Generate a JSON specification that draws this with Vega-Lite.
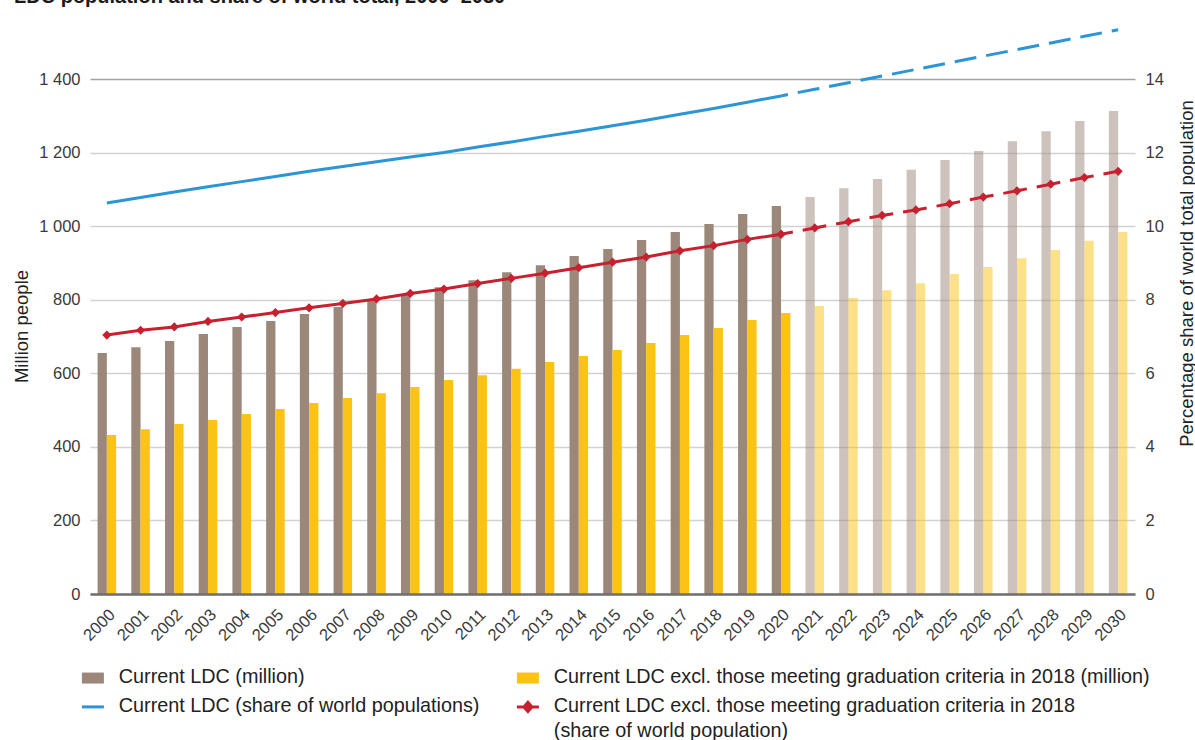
{
  "$schema": "https://vega.github.io/schema/vega-lite/v6.json",
  "width": 1045,
  "height": 515,
  "autosize": {"type": "none"},
  "padding": {"left": 90, "top": 79, "right": 60, "bottom": 146},
  "background": "white",
  "title": {
    "text": "LDC population and share of world total, 2000–2030",
    "anchor": "start",
    "frame": "group",
    "dx": -76,
    "offset": 1,
    "fontSize": 20,
    "fontWeight": "bold",
    "color": "#1a1a1a",
    "baseline": "alphabetic"
  },
  "config": {
    "font": "Liberation Sans",
    "view": {"stroke": null}
  },
  "data": {
    "values": [
      {"year": 2000, "ldc": 655, "excl": 432, "share": 10.63, "share_excl": 7.04},
      {"year": 2001, "ldc": 671, "excl": 448, "share": 10.78, "share_excl": 7.17},
      {"year": 2002, "ldc": 688, "excl": 462, "share": 10.93, "share_excl": 7.26},
      {"year": 2003, "ldc": 707, "excl": 473, "share": 11.07, "share_excl": 7.41},
      {"year": 2004, "ldc": 726, "excl": 489, "share": 11.21, "share_excl": 7.53},
      {"year": 2005, "ldc": 742, "excl": 503, "share": 11.35, "share_excl": 7.65},
      {"year": 2006, "ldc": 761, "excl": 519, "share": 11.49, "share_excl": 7.78},
      {"year": 2007, "ldc": 780, "excl": 533, "share": 11.62, "share_excl": 7.9},
      {"year": 2008, "ldc": 799, "excl": 546, "share": 11.75, "share_excl": 8.02},
      {"year": 2009, "ldc": 815, "excl": 563, "share": 11.88, "share_excl": 8.17},
      {"year": 2010, "ldc": 834, "excl": 582, "share": 12.0, "share_excl": 8.29},
      {"year": 2011, "ldc": 853, "excl": 595, "share": 12.15, "share_excl": 8.44},
      {"year": 2012, "ldc": 875, "excl": 612, "share": 12.29, "share_excl": 8.58},
      {"year": 2013, "ldc": 894, "excl": 631, "share": 12.44, "share_excl": 8.72},
      {"year": 2014, "ldc": 919, "excl": 647, "share": 12.58, "share_excl": 8.87},
      {"year": 2015, "ldc": 938, "excl": 663, "share": 12.73, "share_excl": 9.02},
      {"year": 2016, "ldc": 962, "excl": 682, "share": 12.88, "share_excl": 9.16},
      {"year": 2017, "ldc": 984, "excl": 704, "share": 13.04, "share_excl": 9.33},
      {"year": 2018, "ldc": 1006, "excl": 723, "share": 13.2, "share_excl": 9.47},
      {"year": 2019, "ldc": 1033, "excl": 745, "share": 13.37, "share_excl": 9.64},
      {"year": 2020, "ldc": 1055, "excl": 764, "share": 13.54, "share_excl": 9.78},
      {"year": 2021, "ldc": 1079, "excl": 783, "share": 13.72, "share_excl": 9.95},
      {"year": 2022, "ldc": 1103, "excl": 805, "share": 13.9, "share_excl": 10.12},
      {"year": 2023, "ldc": 1128, "excl": 826, "share": 14.08, "share_excl": 10.29},
      {"year": 2024, "ldc": 1153, "excl": 845, "share": 14.26, "share_excl": 10.44},
      {"year": 2025, "ldc": 1180, "excl": 870, "share": 14.44, "share_excl": 10.61},
      {"year": 2026, "ldc": 1204, "excl": 889, "share": 14.62, "share_excl": 10.79},
      {"year": 2027, "ldc": 1231, "excl": 913, "share": 14.8, "share_excl": 10.96},
      {"year": 2028, "ldc": 1258, "excl": 935, "share": 14.98, "share_excl": 11.14},
      {"year": 2029, "ldc": 1286, "excl": 960, "share": 15.16, "share_excl": 11.32},
      {"year": 2030, "ldc": 1313, "excl": 984, "share": 15.34, "share_excl": 11.49}
    ]
  },
  "encoding": {
    "x": {
      "field": "year",
      "type": "ordinal",
      "scale": {"paddingInner": 0.45, "paddingOuter": 0.225},
      "axis": {
        "title": null,
        "labelAngle": -45,
        "labelAlign": "right",
        "labelBaseline": "top",
        "labelFontSize": 16.5,
        "labelColor": "#3a3a3a",
        "labelPadding": 12,
        "ticks": false,
        "domain": true,
        "domainColor": "#6f6f6f",
        "domainWidth": 2.5,
        "zindex": 1
      }
    }
  },
  "layer": [
    {
      "transform": [{"fold": ["ldc", "excl"], "as": ["series", "value"]}],
      "mark": {"type": "bar"},
      "encoding": {
        "xOffset": {"field": "series", "type": "nominal", "scale": {"domain": ["ldc", "excl"], "paddingInner": 0, "paddingOuter": 0}},
        "y": {
          "field": "value",
          "type": "quantitative",
          "scale": {"domain": [0, 1400], "nice": false},
          "axis": {
            "title": "Million people",
            "titleFontSize": 18.5,
            "titleFontWeight": "normal",
            "titleColor": "#222222",
            "titleAngle": -90,
            "titleAlign": "center",
            "titleBaseline": "alphabetic",
            "titleX": -63,
            "titleY": 247,
            "values": [0, 200, 400, 600, 800, 1000, 1200, 1400],
            "labelExpr": "replace(format(datum.value, ','), ',', ' ')",
            "labelFontSize": 16.5,
            "labelColor": "#3a3a3a",
            "labelPadding": 10,
            "ticks": false,
            "domain": false,
            "grid": true,
            "gridColor": {"condition": {"test": "datum.value == 1400", "value": "#a3a3a3"}, "value": "#d2d2d2"},
            "gridWidth": 1.5
          }
        },
        "color": {
          "field": "series",
          "type": "nominal",
          "scale": {
            "domain": ["ldc", "excl", "share", "share_excl"],
            "range": ["#9c887a", "#fbc313", "#2b95d6", "#c8202f"]
          },
          "legend": {
            "orient": "none",
            "legendX": -7,
            "legendY": 589,
            "columns": 2,
            "direction": "horizontal",
            "title": null,
            "labelFontSize": 19.8,
            "labelColor": "#222222",
            "labelOffset": 16,
            "labelLimit": 1000,
            "labelBaseline": "top",
            "columnPadding": 30,
            "rowPadding": 8,
            "symbolSize": 484,
            "labelExpr": "datum.value == 'ldc' ? 'Current LDC (million)' : datum.value == 'excl' ? 'Current LDC excl. those meeting graduation criteria in 2018 (million)' : datum.value == 'share' ? 'Current LDC (share of world populations)' : ['Current LDC excl. those meeting graduation criteria in 2018', '(share of world population)']",
            "encode": {
              "labels": {"update": {"dy": {"value": -11}, "lineHeight": {"value": 25}}},
              "symbols": {
                "update": {
                  "shape": {"signal": "datum.value == 'ldc' || datum.value == 'excl' ? 'M-1,-0.5H1V0.5H-1Z' : datum.value == 'share' ? 'M-1,0H1' : 'M-1,0H1M0,-0.42L0.36,0L0,0.42L-0.36,0Z'"},
                  "fill": {"signal": "datum.value == 'ldc' ? '#9c887a' : datum.value == 'excl' ? '#fbc313' : datum.value == 'share' ? 'transparent' : '#c8202f'"},
                  "stroke": {"signal": "datum.value == 'share' ? '#2b95d6' : datum.value == 'share_excl' ? '#c8202f' : 'transparent'"},
                  "strokeWidth": {"signal": "datum.value == 'ldc' || datum.value == 'excl' ? 0 : 3"},
                  "opacity": {"value": 1},
                  "fillOpacity": {"value": 1},
                  "strokeOpacity": {"value": 1}
                }
              }
            }
          }
        },
        "fillOpacity": {"condition": {"test": "datum.year > 2020", "value": 0.5}, "value": 1}
      }
    },
    {
      "transform": [{"fold": ["share", "share_excl"], "as": ["series", "pct"]}],
      "encoding": {
        "y": {
          "field": "pct",
          "type": "quantitative",
          "scale": {"domain": [0, 14], "nice": false},
          "axis": {
            "orient": "right",
            "title": "Percentage share of world total population",
            "titleFontSize": 18.5,
            "titleFontWeight": "normal",
            "titleColor": "#222222",
            "titleAngle": -90,
            "titleAlign": "center",
            "titleBaseline": "alphabetic",
            "titleX": 57,
            "titleY": 194,
            "values": [0, 2, 4, 6, 8, 10, 12, 14],
            "labelFontSize": 16.5,
            "labelColor": "#3a3a3a",
            "labelPadding": 10,
            "ticks": false,
            "domain": false,
            "grid": false
          }
        },
        "color": {"field": "series", "type": "nominal"}
      },
      "layer": [
        {
          "transform": [{"filter": "datum.series == 'share' && datum.year <= 2020"}],
          "mark": {"type": "line", "strokeWidth": 3}
        },
        {
          "transform": [{"filter": "datum.series == 'share' && datum.year >= 2020"}],
          "mark": {"type": "line", "strokeWidth": 3, "strokeDash": [22, 10], "strokeDashOffset": 15}
        },
        {
          "transform": [{"filter": "datum.series == 'share_excl' && datum.year <= 2020"}],
          "mark": {"type": "line", "strokeWidth": 3, "point": {"shape": "diamond", "filled": true, "size": 85, "opacity": 1}}
        },
        {
          "transform": [{"filter": "datum.series == 'share_excl' && datum.year >= 2020"}],
          "mark": {"type": "line", "strokeWidth": 3, "strokeDash": [24, 10], "strokeDashOffset": 12, "point": {"shape": "diamond", "filled": true, "size": 85, "opacity": 1}}
        }
      ]
    }
  ],
  "resolve": {"scale": {"y": "independent"}}
}
